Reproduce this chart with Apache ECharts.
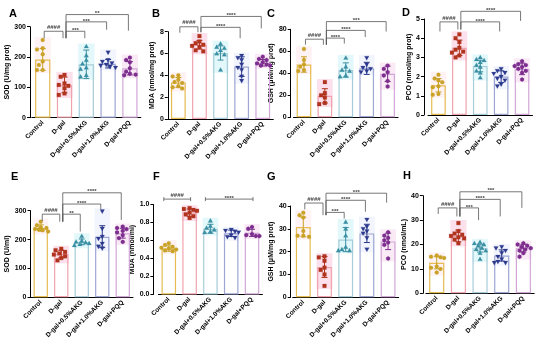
<!DOCTYPE html>
<html><head><meta charset="utf-8">
<script src="https://cdn.jsdelivr.net/npm/echarts@6/dist/echarts.min.js"></script>
<style>html,body{margin:0;padding:0;background:#fff}#c{width:550px;height:345px}</style>
</head><body><div id="c"></div>
<script>
// ---------- DATA ----------
const groups = ['Control','D-gal','D-gal+0.5%AKG','D-gal+1.0%AKG','D-gal+PQQ'];

// Panel A: SOD (U/mg prot)
const A_mean = [192,108,176,178,163];
const A_sd   = [36,26,47,14,22];
const A_pts  = [[256,229,225,209,185,174,157,157],[141,135,113,108,105,97,80,75],[235,205,190,178,165,160,140,135],[215,190,185,180,175,172,168,165],[198,190,183,163,152,145,142,140]];
const A_sig  = [['####',0,1,285,262,262],['***',1,2,285,262,262],['***',1,3,316,262,290],['**',1,4,340,262,287]];

// Panel B: MDA (nmol/mg prot)
const B_mean = [3.35,6.8,6.05,4.8,5.15];
const B_sd   = [0.45,0.4,0.65,0.9,0.3];
const B_pts  = [[4.0,3.9,3.6,3.4,3.3,3.0,2.9,2.8],[7.6,7.1,6.95,6.8,6.7,6.6,6.3,6.2],[6.9,6.6,6.5,6.3,6.0,5.9,4.5],[5.8,5.6,5.4,5.0,4.7,4.5,3.9,3.5],[5.7,5.5,5.4,5.2,5.1,5.0,4.9,4.9]];
const B_sig  = [['####',0,1,8.45,7.9,7.95],['****',1,3,8.4,7.95,7.4],['****',1,4,9.4,7.95,8.3]];

// Panel C: GSH (μM/mg prot)
const C_mean = [48,19.5,43,44.5,39.5];
const C_sd   = [7,6.5,6.5,5.5,7];
const C_pts  = [[62,52,48,46,43,42],[32,22,20,18,13,12],[54,46,43,42,38,37],[54,48,45,44,42,41],[47,44,41,38,33,28]];
const C_sig  = [['####',0,1,71,66,66],['****',1,2,72,66,67],['****',1,3,79,66,73],['***',1,4,87,66,78]];

// Panel D: PCO (nmol/mg prot)
const D_mean = [1.55,3.5,2.55,2.0,2.4];
const D_sd   = [0.35,0.4,0.3,0.3,0.3];
const D_pts  = [[2.1,1.9,1.8,1.7,1.5,1.45,1.1,1.05],[4.2,4.0,3.8,3.5,3.4,3.3,3.25,3.1,3.0],[3.0,2.9,2.85,2.75,2.6,2.5,2.3,2.2,1.95],[2.4,2.3,2.2,2.15,2.0,1.9,1.8,1.6,1.5],[2.8,2.65,2.6,2.55,2.5,2.4,2.3,2.2,1.85]];
const D_sig  = [['####',0,1,4.85,4.35,4.45],['****',1,3,4.85,4.45,4.35],['****',1,4,5.4,4.45,4.9]];

// Panel E: SOD (U/ml)
const E_mean = [240,150,192,210,222];
const E_sd   = [11,13,10,38,17];
const E_pts  = [[262,250,243,240,237,235,232,228],[168,163,157,152,148,142,136,128],[212,196,192,190,187,184,180],[298,238,210,203,186,176,170],[245,240,236,230,225,215,205,192]];
const E_sig  = [['####',0,1,288,264,262],['**',1,2,288,262,228],['****',1,3,323,262,306],['****',1,4,362,262,268]];

// Panel F: MDA (nmol/ml)
const F_mean = [0.51,0.91,0.73,0.68,0.685];
const F_sd   = [0.03,0.04,0.05,0.035,0.04];
const F_pts  = [[0.57,0.55,0.53,0.52,0.51,0.50,0.49,0.48],[0.96,0.95,0.94,0.93,0.91,0.89,0.87,0.85],[0.82,0.76,0.74,0.72,0.70,0.69],[0.72,0.71,0.70,0.69,0.66,0.64,0.63],[0.75,0.73,0.67,0.66,0.65,0.65]];
const F_sig  = [['####',0,1,1.06],['****',2,4,1.06]];

// Panel G: GSH (μM/mg prot)
const G_mean = [30.8,13.3,25.3,28,24.5];
const G_sd   = [4.3,4.6,5.3,4,3.6];
const G_pts  = [[37,36,35,29,27,27,26.5],[18,17.5,16,13,12,10,5],[33,30,27,22,21,20.5,20.5],[34,31,30,29,28,26,21],[28.5,27,26,25,24,23,17]];
const G_sig  = [['####',0,1,41.3,38.5,36],['***',1,2,37.2,36,34.5],['****',1,3,42.5,36,37.5],['***',1,4,45.6,36,41.5]];

// Panel H: PCO (nmol/mL)
const H_mean = [12.5,23.5,18.5,15.5,18.5];
const H_sd   = [2.5,2.4,1.6,2.3,1.6];
const H_pts  = [[15.5,15,14.8,14.5,11,10.5,10,8.5],[28.8,25.5,24.5,24,23.5,23,22.5,22,20.5],[21,20.5,20,19.5,18.5,18,17.5,16.5,14],[19,18.5,17.5,16.5,15,14,13,12.5,12.5],[20.5,20,19.5,19,18.5,18,17.5,16.5,15]];
const H_sig  = [['####',0,1,35,32.5,31.5],['***',1,2,35,31.5,30],['****',1,3,38.5,31.5,31.5],['***',1,4,41.6,31.5,35]];

// ---------- STYLE / LAYOUT ----------
const FONT = '"Liberation Sans", Arial, sans-serif';
const ptCol  = ['#C9A227','#B0341E','#3A8FA3','#2C3A8E','#7D2E8E'];
const barCol = ['#E4BC52','#F0A3AE','#A6CDD9','#9EA6D3','#D2A7D8'];
const shadeCol = ['rgba(252,226,230,0.45)','rgba(248,186,210,0.45)','rgba(200,242,246,0.5)','rgba(230,235,252,0.5)','rgba(246,214,238,0.5)'];

const panels = [
  {L:'A',lx:9,ly:8,  left:31.8,top:26.7,width:109,height:91,off:1.8,max:300,iv:100,name:'SOD (U/mg prot)',gap:15,mean:A_mean,sd:A_sd,pts:A_pts,sig:A_sig},
  {L:'B',lx:152,ly:8,left:167.8,top:31.7,width:105.5,height:87.3,off:0,max:8,iv:2,name:'MDA (nmol/mg prot)',gap:9,mean:B_mean,sd:B_sd,pts:B_pts,sig:B_sig},
  {L:'C',lx:267,ly:8,left:293.5,top:29.3,width:104.6,height:88,off:2.8,max:80,iv:20,name:'GSH (\u03bcM/mg prot)',gap:14,mean:C_mean,sd:C_sd,pts:C_pts,sig:C_sig},
  {L:'D',lx:402,ly:7,left:428,top:19,width:104.5,height:96,off:4,max:5,iv:1,name:'PCO (nmol/mg prot)',gap:9,mean:D_mean,sd:D_sd,pts:D_pts,sig:D_sig},
  {L:'E',lx:11,ly:171,left:30.5,top:210.7,width:102.5,height:86.6,off:0,max:300,iv:100,name:'SOD (U/ml)',gap:15,mean:E_mean,sd:E_sd,pts:E_pts,sig:E_sig},
  {L:'F',lx:153,ly:171,left:158.4,top:204.5,width:104,height:90,off:5,max:1.0,iv:0.2,name:'MDA (nmol/ml)',gap:12,mean:F_mean,sd:F_sd,pts:F_pts,sig:F_sig,fix:1,caps:true},
  {L:'G',lx:267,ly:171,left:292.7,top:206,width:106,height:91.3,off:2,max:40,iv:10,name:'GSH (\u03bcM/mg prot)',gap:13,mean:G_mean,sd:G_sd,pts:G_pts,sig:G_sig},
  {L:'H',lx:403,ly:170,left:425.9,top:195.7,width:108.3,height:97.6,off:3,max:40,iv:10,name:'PCO (nmol/mL)',gap:9,mean:H_mean,sd:H_sd,pts:H_pts,sig:H_sig}
];

function swarm(ys){
  const placed=[], out=[];
  const cands=[0,-3.8,3.8,-1.9,1.9,-5.7,5.7,-7.4,7.4];
  ys.forEach(y=>{
    let best=0,bestD=-1;
    for(const dx of cands){
      let md=Infinity;
      for(const p of placed){const d=Math.hypot(p[0]-dx,p[1]-y); if(d<md) md=d;}
      if(md>=4.1){best=dx;bestD=md;break;}
      if(md>bestD){bestD=md;best=dx;}
    }
    placed.push([best,y]); out.push(best);
  });
  return out;
}

function marker(g,cx,cy,color){
  const st={fill:color,stroke:color,lineWidth:0.2};
  if(g===0) return {type:'circle',shape:{cx,cy,r:2.0},style:st};
  if(g===1) return {type:'rect',shape:{x:cx-1.9,y:cy-1.9,width:3.8,height:3.8},style:st};
  if(g===2) return {type:'polygon',shape:{points:[[cx,cy-2.4],[cx-2.3,cy+1.7],[cx+2.3,cy+1.7]]},style:st};
  if(g===3) return {type:'polygon',shape:{points:[[cx,cy+2.4],[cx-2.3,cy-1.7],[cx+2.3,cy-1.7]]},style:st};
  const pts=[];for(let k=0;k<6;k++){const a=Math.PI/6+k*Math.PI/3;pts.push([cx+2.2*Math.cos(a),cy+2.2*Math.sin(a)]);}
  return {type:'polygon',shape:{points:pts},style:st};
}

const grid=[],xAxis=[],yAxis=[],series=[],graphic=[];
panels.forEach((P,k)=>{
  grid.push({left:P.left,top:P.top,width:P.width,height:P.height,containLabel:false,outerBoundsMode:'none'});
  xAxis.push({gridIndex:k,type:'category',data:groups,
    axisLine:{lineStyle:{color:'#000',width:1}},
    axisTick:{alignWithLabel:true,length:3,lineStyle:{color:'#000'}},
    axisLabel:{rotate:45,interval:0,fontSize:6.5,fontWeight:'bold',fontFamily:FONT,color:'#000',margin:4}});
  yAxis.push({gridIndex:k,type:'value',min:0,max:P.max,interval:P.iv,offset:P.off,
    name:P.name,nameLocation:'middle',nameGap:P.gap,
    nameTextStyle:{fontFamily:FONT,fontWeight:'bold',fontSize:7,color:'#000'},
    axisLine:{show:true,lineStyle:{color:'#000',width:1}},
    axisTick:{show:true,length:3,lineStyle:{color:'#000'}},
    axisLabel:{fontFamily:FONT,fontWeight:'bold',fontSize:7,color:'#000',margin:4,
      formatter:v=>P.fix?v.toFixed(P.fix):String(v)},
    splitLine:{show:false}});
  // shaded range behind points
  series.push({type:'custom',xAxisIndex:k,yAxisIndex:k,z:1,silent:true,
    data:P.pts.map((p,i)=>[i,Math.min(...p),Math.max(...p)]),
    renderItem:(params,api)=>{
      const i=api.value(0),c1=api.coord([i,api.value(2)]),c2=api.coord([i,api.value(1)]);
      const bw=api.size([1,0])[0]*0.7+1;
      return {type:'rect',shape:{x:c1[0]-bw/2,y:c1[1]-3,width:bw,height:c2[1]-c1[1]+6},style:{fill:shadeCol[i]}};
    }});
  // bars
  series.push({type:'bar',xAxisIndex:k,yAxisIndex:k,z:2,silent:true,barWidth:'70%',
    data:P.mean.map((m,i)=>({value:m,itemStyle:{borderColor:barCol[i]}})),
    itemStyle:{color:'rgba(255,255,255,0)',borderWidth:1.2}});
  // error bars + points
  series.push({type:'custom',xAxisIndex:k,yAxisIndex:k,z:3,silent:true,
    data:P.mean.map((m,i)=>[i,m,P.sd[i]]),
    renderItem:(params,api)=>{
      const i=api.value(0),m=api.value(1),s=api.value(2);
      const t=api.coord([i,m+s]),b=api.coord([i,m-s]);
      const col=ptCol[i],ls={stroke:col,lineWidth:1};
      const ch=[
        {type:'line',shape:{x1:t[0],y1:t[1],x2:b[0],y2:b[1]},style:ls},
        {type:'line',shape:{x1:t[0]-3,y1:t[1],x2:t[0]+3,y2:t[1]},style:ls},
        {type:'line',shape:{x1:b[0]-3,y1:b[1],x2:b[0]+3,y2:b[1]},style:ls}];
      const vals=P.pts[i].slice().sort((a,b)=>b-a);
      const cs=vals.map(v=>api.coord([i,v]));
      const dx=swarm(cs.map(c=>c[1]));
      cs.forEach((c,j)=>ch.push(marker(i,c[0]+dx[j],c[1],col)));
      return {type:'group',children:ch};
    }});
  // significance brackets
  series.push({type:'custom',xAxisIndex:k,yAxisIndex:k,z:4,silent:true,clip:false,
    data:P.sig.map(s=>[s[1],s[3]]),
    renderItem:(params,api)=>{
      const s=P.sig[params.dataIndex];
      const ca=api.coord([s[1],s[3]]),cb=api.coord([s[2],s[3]]);
      const y=ca[1];let ch=[],xa,xb;
      const ls={stroke:'#555',lineWidth:0.8,fill:null};
      if(P.caps){
        xa=ca[0]-5;xb=cb[0]+1;
        ch.push({type:'line',shape:{x1:xa,y1:y,x2:xb,y2:y},style:ls});
        ch.push({type:'line',shape:{x1:xa,y1:y-2,x2:xa,y2:y+2},style:ls});
        ch.push({type:'line',shape:{x1:xb,y1:y-2,x2:xb,y2:y+2},style:ls});
      } else {
        xa=ca[0]+1.5;xb=cb[0]-1.5;
        const ya=api.coord([s[1],s[4]])[1],yb=api.coord([s[2],s[5]])[1];
        ch.push({type:'polyline',shape:{points:[[xa,ya],[xa,y],[xb,y],[xb,yb]]},style:ls});
      }
      const hash=s[0][0]==='#';
      ch.push({type:'text',x:(xa+xb)/2,y:hash?y-1:y+2,
        style:{text:s[0],fill:'#444',font:'bold 6px '+FONT,align:'center',verticalAlign:'bottom',textAlign:'center',textVerticalAlign:'bottom'}});
      return {type:'group',children:ch};
    }});
  graphic.push({type:'text',left:P.lx,top:P.ly,style:{text:P.L,font:'bold 11px '+FONT,fill:'#000'}});
});

const chart=echarts.init(document.getElementById('c'),null,{renderer:'canvas'});
chart.setOption({animation:false,backgroundColor:'#fff',grid,xAxis,yAxis,series,graphic});
</script></body></html>
